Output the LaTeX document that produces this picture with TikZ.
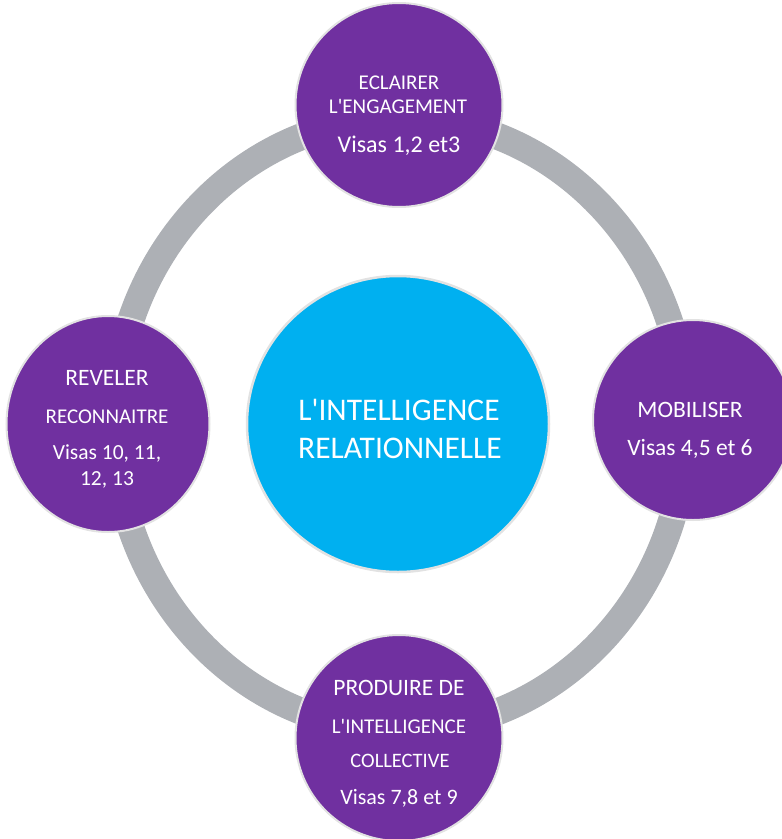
\documentclass[tikz,border=0pt]{standalone}
\usepackage{fontspec}
\setmainfont{Carlito}
\usetikzlibrary{shapes.geometric}
\definecolor{ringgray}{HTML}{ADB0B5}
\definecolor{stagepurple}{HTML}{7030A0}
\definecolor{corecyan}{HTML}{00B0F0}
\definecolor{rimgray}{HTML}{E2E2E2}
\newcommand\fsz[1]{\fontsize{#1}{#1}\selectfont}
\newcommand\apos{\textquotesingle}
\begin{document}
\begin{tikzpicture}[x=1pt,y=-1pt,
  stage/.style={ellipse, fill=stagepurple, draw=rimgray, line width=2pt, inner sep=0pt},
  core/.style={ellipse, fill=corecyan, draw=rimgray, line width=2.5pt, inner sep=0pt},
  lbl/.style={text=white, anchor=base, inner sep=0pt},
]
\useasboundingbox (0,0) rectangle (782,839);

% grey ring linking the four stages
\draw[ringgray, line width=27pt] (400,424) ellipse [x radius=286pt, y radius=306pt];

% central circle
\node[core, minimum width=302pt, minimum height=296pt] (core) at (398,424) {};
\node[lbl, font=\fsz{31.5}] (core-1) at (399,420) {L\apos INTELLIGENCE};
\node[lbl, font=\fsz{31.5}] (core-2) at (400,458) {RELATIONNELLE};

% top stage
\node[stage, minimum width=207pt, minimum height=204pt] (top) at (399,105) {};
\node[lbl, font=\fsz{21}] (top-1) at (399,89) {ECLAIRER};
\node[lbl, font=\fsz{21}] (top-2) at (398,113) {L\apos ENGAGEMENT};
\node[lbl, font=\fsz{24}] (top-3) at (399,152) {Visas 1,2 et3};

% right stage
\node[stage, minimum width=200pt, minimum height=200pt] (right) at (693,420) {};
\node[lbl, font=\fsz{23.5}] (right-1) at (690,417) {MOBILISER};
\node[lbl, font=\fsz{23.5}] (right-2) at (690,455) {Visas 4,5 et 6};

% bottom stage
\node[stage, minimum width=207pt, minimum height=206pt] (bottom) at (399,738) {};
\node[lbl, font=\fsz{23.5}] (bottom-1) at (399,695) {PRODUIRE DE};
\node[lbl, font=\fsz{21}] (bottom-2) at (399,733) {L\apos INTELLIGENCE};
\node[lbl, font=\fsz{20.5}] (bottom-3) at (400,767) {COLLECTIVE};
\node[lbl, font=\fsz{22}] (bottom-4) at (399,804) {Visas 7,8 et 9};

% left stage
\node[stage, minimum width=203pt, minimum height=216pt] (left) at (108,424) {};
\node[lbl, font=\fsz{23.5}] (left-1) at (107,385) {REVELER};
\node[lbl, font=\fsz{21}] (left-2) at (107,423) {RECONNAITRE};
\node[lbl, font=\fsz{21.5}] (left-3) at (107,459) {Visas 10, 11,};
\node[lbl, font=\fsz{21.5}] (left-4) at (107,485) {12, 13};
\end{tikzpicture}
\end{document}
